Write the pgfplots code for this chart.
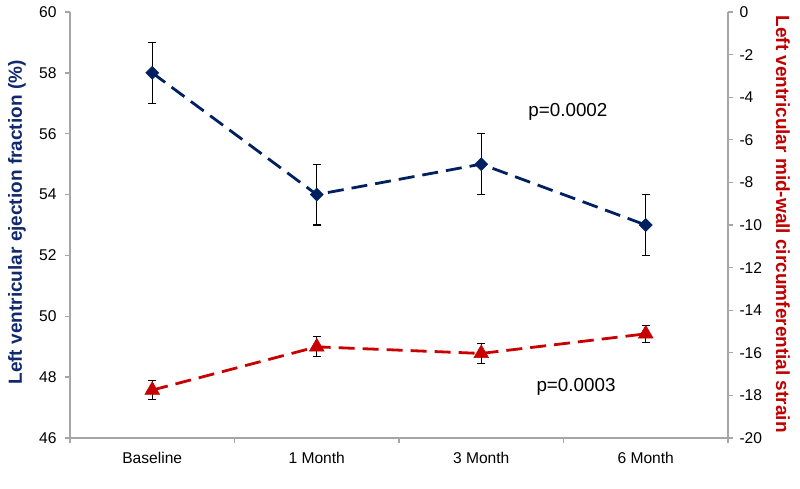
\documentclass[border=0pt]{standalone}
\usepackage{fontspec}
\setmainfont{Liberation Sans}
\usepackage{pgfplots}
\pgfplotsset{compat=1.18}
\definecolor{axgray}{RGB}{166,166,166}
\definecolor{dblue}{RGB}{0,32,96}
\definecolor{lblue}{RGB}{16,40,110}
\definecolor{dred}{RGB}{200,0,0}
\definecolor{lred}{RGB}{192,0,0}
\begin{document}
\begin{tikzpicture}
\useasboundingbox (-70pt,-50pt) rectangle (730pt,438pt);
\pgfplotsset{
  common/.style={
    at={(0pt,0pt)}, anchor=south west,
    width=658pt, height=426pt, scale only axis,
    xmin=-0.5, xmax=3.5,
    clip=false,
    tick align=outside,
    major tick length=5pt,
    tick style={draw=axgray, line width=1.3pt},
    axis line style={draw=axgray, line width=1.3pt},
    ticklabel style={font=\fontsize{15.6}{18}\selectfont},
    /pgf/number format/assume math mode=true,
  }
}
\begin{axis}[common,
  ymin=46, ymax=60,
  axis y line*=left, axis x line*=bottom,
  xtick={-0.5,0.5,1.5,2.5,3.5},
  x tick label as interval,
  xticklabels={Baseline,1 Month,3 Month,6 Month},
  xticklabel style={yshift=-6pt},
  ytick={46,48,...,60},
  yticklabel style={xshift=-5pt},
  ylabel={Left ventricular ejection fraction (\%)},
  ylabel style={at={(axis description cs:-0.0806,0.506)}, anchor=center,
    font=\bfseries\fontsize{19}{22}\selectfont, text=lblue},
]
\addplot[dblue, line width=2.8pt, dash pattern=on 16pt off 8pt,
  mark=square*, mark size=4.6pt, mark options={solid, rotate=45, fill=dblue, draw=dblue, line width=0.5pt},
  error bars/.cd, y dir=both, y explicit,
  error bar style={black, line width=1.2pt, solid},
  error mark options={rotate=90, black, mark size=4pt, line width=1.2pt, solid}]
coordinates {
  (0,58) +- (0,1)
  (1,54) +- (0,1)
  (2,55) +- (0,1)
  (3,53) +- (0,1)
};
\node[font=\fontsize{18.8}{22}\selectfont] at (axis cs:2.527,56.71) {p=0.0002};
\node[font=\fontsize{18.8}{22}\selectfont] at (axis cs:2.576,47.68) {p=0.0003};
\end{axis}
\begin{axis}[common,
  ymin=-20, ymax=0,
  axis y line*=right, axis x line=none,
  ytick={-20,-18,...,0},
  yticklabels={-20,-18,-16,-14,-12,-10,-8,-6,-4,-2,0},
  yticklabel style={xshift=3pt},
  ylabel={Left ventricular mid-wall circumferential strain},
  ylabel style={at={(axis description cs:1.0836,0.502)}, anchor=center, rotate=180,
    font=\bfseries\fontsize{19}{22}\selectfont, text=lred},
]
\addplot[dred, line width=2.8pt, dash pattern=on 16pt off 8pt,
  mark=triangle*, mark size=8.5pt, mark options={solid, fill=dred, draw=dred, line width=0.5pt},
  error bars/.cd, y dir=both, y explicit,
  error bar style={black, line width=1.2pt, solid},
  error mark options={rotate=90, black, mark size=4pt, line width=1.2pt, solid}]
coordinates {
  (0,-17.75) +- (0,0.44)
  (1,-15.72) +- (0,0.47)
  (2,-16.03) +- (0,0.47)
  (3,-15.11) +- (0,0.41)
};
\end{axis}
\end{tikzpicture}
\end{document}
